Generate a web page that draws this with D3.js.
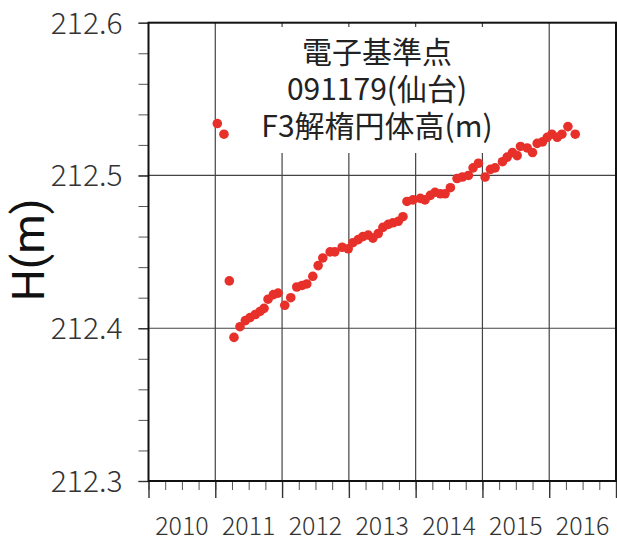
<!DOCTYPE html>
<html>
<head>
<meta charset="utf-8">
<script src="https://cdn.jsdelivr.net/npm/d3@7"></script>
<style>
  body { margin: 0; background: #fff; }
  svg { display: block; }
  .tick-label { font-family: "Noto Sans CJK JP", "Open Sans", sans-serif; font-weight: 300; fill: #333; }
</style>
</head>
<body>
<svg id="chart" width="617" height="542"></svg>
<script>
// decimal year of each observation
const years = [
  2011.03, 2011.13, 2011.21, 2011.28, 2011.37, 2011.45, 2011.52, 2011.60, 2011.67, 2011.73,
  2011.79, 2011.87, 2011.94, 2012.04, 2012.13, 2012.22, 2012.30, 2012.37, 2012.46, 2012.54,
  2012.61, 2012.72, 2012.79, 2012.90, 2012.99, 2013.06, 2013.14, 2013.21, 2013.29, 2013.36,
  2013.44, 2013.51, 2013.59, 2013.66, 2013.74, 2013.81, 2013.87, 2013.96, 2014.07, 2014.14,
  2014.22, 2014.29, 2014.37, 2014.44, 2014.52, 2014.62, 2014.70, 2014.79, 2014.86, 2014.94,
  2015.04, 2015.12, 2015.19, 2015.30, 2015.37, 2015.45, 2015.52, 2015.57, 2015.67, 2015.75,
  2015.82, 2015.90, 2015.97, 2016.04, 2016.12, 2016.19, 2016.28, 2016.39
];
// ellipsoidal height (m)
const heights = [
  212.534, 212.527, 212.431, 212.394, 212.401, 212.405, 212.407, 212.409, 212.411, 212.413,
  212.419, 212.422, 212.423, 212.415, 212.420, 212.427, 212.428, 212.429, 212.434, 212.441,
  212.446, 212.450, 212.450, 212.453, 212.452, 212.456, 212.458, 212.460, 212.461, 212.459,
  212.462, 212.466, 212.468, 212.469, 212.470, 212.473, 212.483, 212.484, 212.485, 212.484,
  212.487, 212.489, 212.488, 212.488, 212.492, 212.498, 212.499, 212.500, 212.505, 212.508,
  212.499, 212.504, 212.505, 212.509, 212.512, 212.515, 212.513, 212.519, 212.518, 212.515,
  212.521, 212.522, 212.525, 212.527, 212.525, 212.527, 212.532, 212.527
];
const xTickYears = [2010, 2011, 2012, 2013, 2014, 2015, 2016];
const yTickValues = [212.3, 212.4, 212.5, 212.6];
const titleLines = ["電子基準点", "091179(仙台)", "F3解楕円体高(m)"];
const yTitle = "H(m)";

const data = years.map((t, i) => ({ t: t, h: heights[i] }));

const margin = { left: 148.5, right: 1, top: 22.7, bottom: 61 };
const width = 617, height = 542;

const svg = d3.select("#chart");

const x = d3.scaleLinear().domain([2010, 2017]).range([margin.left, width - margin.right]);
const y = d3.scaleLinear().domain([212.3, 212.6]).range([height - margin.bottom, margin.top]);

// grid lines
svg.append("g")
  .selectAll("line")
  .data(d3.range(2011, 2017))
  .join("line")
    .attr("x1", d => x(d)).attr("x2", d => x(d))
    .attr("y1", y(212.6)).attr("y2", y(212.3))
    .attr("stroke", "#444").attr("stroke-width", 1.2);

svg.append("g")
  .selectAll("line")
  .data([212.4, 212.5])
  .join("line")
    .attr("x1", x(2010)).attr("x2", x(2017))
    .attr("y1", d => y(d)).attr("y2", d => y(d))
    .attr("stroke", "#444").attr("stroke-width", 1.2);

// white box behind title
svg.append("rect")
  .attr("x", 228).attr("y", 27)
  .attr("width", 315).attr("height", 126)
  .attr("fill", "#fff");

titleLines.forEach((s, i) => {
  svg.append("text")
    .attr("x", 377)
    .attr("y", 63 + i * 37)
    .attr("text-anchor", "middle")
    .attr("font-family", "'Noto Sans CJK JP', sans-serif")
    .attr("font-size", 30)
    .attr("fill", "#222")
    .text(s);
});

// minor ticks
const xMinor = d3.axisBottom(x)
  .tickValues(d3.range(0, 28).map(i => 2010 + i * 0.25))
  .tickSize(9).tickFormat("");
svg.append("g")
  .attr("transform", `translate(0,${y(212.3)})`)
  .call(xMinor)
  .call(g => g.select(".domain").remove())
  .call(g => g.selectAll("line").attr("stroke", "#555").attr("stroke-width", 1));

const xMajor = d3.axisBottom(x)
  .tickValues(d3.range(2010, 2018))
  .tickSize(17).tickFormat("");
svg.append("g")
  .attr("transform", `translate(0,${y(212.3)})`)
  .call(xMajor)
  .call(g => g.select(".domain").remove())
  .call(g => g.selectAll("line").attr("stroke", "#333").attr("stroke-width", 1.4));

const yMinor = d3.axisLeft(y)
  .tickValues(d3.range(0, 16).map(i => 212.3 + i * 0.02))
  .tickSize(10).tickFormat("");
svg.append("g")
  .attr("transform", `translate(${x(2010)},0)`)
  .call(yMinor)
  .call(g => g.select(".domain").remove())
  .call(g => g.selectAll("line").attr("stroke", "#555").attr("stroke-width", 1));

const yMajor = d3.axisLeft(y)
  .tickValues(yTickValues)
  .tickSize(10).tickPadding(16)
  .tickFormat(d3.format(".1f"));
svg.append("g")
  .attr("transform", `translate(${x(2010)},0)`)
  .call(yMajor)
  .call(g => g.select(".domain").remove())
  .call(g => g.selectAll("line").attr("stroke", "#333").attr("stroke-width", 1.4))
  .call(g => g.selectAll("text")
    .attr("class", "tick-label")
    .attr("font-size", 30)
    .attr("dy", "0.35em"));

// year labels sit in the middle of each year
svg.append("g")
  .selectAll("text")
  .data(xTickYears)
  .join("text")
    .attr("class", "tick-label")
    .attr("x", d => x(d + 0.5))
    .attr("y", 535)
    .attr("text-anchor", "middle")
    .attr("font-size", 25)
    .text(d => d);

// frame
svg.append("rect")
  .attr("x", x(2010)).attr("y", y(212.6))
  .attr("width", x(2017) - x(2010))
  .attr("height", y(212.3) - y(212.6))
  .attr("fill", "none")
  .attr("stroke", "#111").attr("stroke-width", 2);

// y title
svg.append("text")
  .attr("transform", "translate(44,250) rotate(-90)")
  .attr("text-anchor", "middle")
  .attr("font-family", "Roboto, sans-serif")
  .attr("font-size", 45)
  .attr("fill", "#111")
  .text(yTitle);

// points
svg.append("g")
  .selectAll("circle")
  .data(data)
  .join("circle")
    .attr("cx", d => x(d.t))
    .attr("cy", d => y(d.h))
    .attr("r", 4.8)
    .attr("fill", "#e8302a");
</script>
</body>
</html>
